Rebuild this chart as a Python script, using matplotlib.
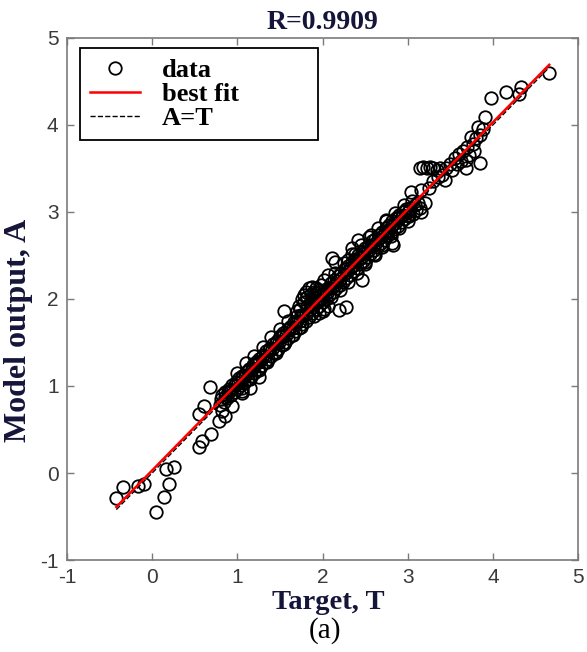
import matplotlib.pyplot as plt

plt.rcParams['axes.unicode_minus'] = False

# targets (T) and model outputs (A)
# dense band along the fit
band_t = [0.80, 0.82, 0.84, 0.86, 0.88, 0.90, 0.92, 0.94, 0.96, 0.98,
          1.00, 1.02, 1.04, 1.06, 1.08, 1.10, 1.12, 1.14, 1.16, 1.18,
          1.20, 1.22, 1.24, 1.26, 1.28, 1.30, 1.32, 1.34, 1.36, 1.38,
          1.40, 1.42, 1.44, 1.46, 1.48, 1.50, 1.52, 1.54, 1.56, 1.58,
          1.60, 1.62, 1.64, 1.66, 1.68, 1.70, 1.72, 1.74, 1.76, 1.78,
          1.80, 1.82, 1.84, 1.86, 1.88, 1.90, 1.92, 1.94, 1.96, 1.98,
          2.00, 2.02, 2.04, 2.06, 2.08, 2.10, 2.12, 2.14, 2.16, 2.18,
          2.20, 2.22, 2.24, 2.26, 2.28, 2.30, 2.32, 2.34, 2.36, 2.38,
          2.40, 2.42, 2.44, 2.46, 2.48, 2.50, 2.52, 2.54, 2.56, 2.58,
          2.60, 2.62, 2.64, 2.66, 2.68, 2.70, 2.72, 2.74, 2.76, 2.78,
          2.80, 2.82, 2.84, 2.86, 2.88, 2.90, 2.92, 2.94, 2.96, 2.98, 3.00]
band_a = [0.78, 0.90, 0.82, 0.93, 0.86, 0.97, 0.90, 1.01, 0.93, 1.05,
          0.97, 1.09, 1.01, 1.12, 1.04, 1.16, 1.08, 1.20, 1.12, 1.24,
          1.15, 1.28, 1.19, 1.31, 1.23, 1.36, 1.27, 1.40, 1.31, 1.44,
          1.35, 1.48, 1.39, 1.52, 1.43, 1.57, 1.47, 1.61, 1.51, 1.64,
          1.55, 1.68, 1.59, 1.74, 1.63, 1.80, 1.67, 1.88, 1.71, 1.96,
          1.75, 2.02, 1.79, 2.06, 1.84, 2.08, 1.88, 2.07, 1.92, 2.06,
          1.96, 2.10, 2.00, 2.13, 2.04, 2.18, 2.08, 2.22, 2.12, 2.26,
          2.16, 2.30, 2.20, 2.34, 2.24, 2.38, 2.28, 2.42, 2.32, 2.46,
          2.36, 2.50, 2.40, 2.54, 2.44, 2.58, 2.48, 2.62, 2.52, 2.66,
          2.56, 2.69, 2.60, 2.73, 2.64, 2.77, 2.68, 2.81, 2.72, 2.85,
          2.76, 2.89, 2.80, 2.93, 2.84, 2.97, 2.88, 3.00, 2.92, 3.03, 2.96]

core_t = [0.81, 0.85, 0.89, 0.93, 0.97, 1.01, 1.05, 1.09, 1.13, 1.17,
          1.21, 1.25, 1.29, 1.33, 1.37, 1.41, 1.45, 1.49, 1.53, 1.57,
          1.61, 1.65, 1.69, 1.73, 1.77, 1.81, 1.85, 1.89, 1.93, 1.97,
          2.01, 2.05, 2.09, 2.13, 2.17, 2.21, 2.25, 2.29, 2.33, 2.37,
          2.41, 2.45, 2.49, 2.53, 2.57, 2.61, 2.65, 2.69, 2.73, 2.77,
          2.81, 2.85, 2.89, 2.93, 2.97]
core_a = [0.85, 0.87, 0.93, 0.95, 1.01, 1.03, 1.09, 1.11, 1.17, 1.19,
          1.25, 1.27, 1.33, 1.35, 1.41, 1.43, 1.49, 1.51, 1.57, 1.59,
          1.65, 1.67, 1.73, 1.75, 1.81, 1.83, 1.89, 1.91, 1.97, 1.99,
          2.05, 2.07, 2.13, 2.15, 2.21, 2.23, 2.29, 2.31, 2.37, 2.39,
          2.45, 2.47, 2.53, 2.55, 2.61, 2.63, 2.69, 2.71, 2.77, 2.79,
          2.85, 2.87, 2.93, 2.95, 3.01]

# outer edge of the band
edge_t = [1.00, 1.05, 1.10, 1.15, 1.20, 1.25, 1.30, 1.35, 1.40, 1.45,
          1.50, 1.55, 1.60, 1.65, 1.70, 1.75, 2.10, 2.15, 2.20, 2.25,
          2.30, 2.35, 2.40, 2.45, 2.50, 2.55, 2.60, 2.65, 2.70, 2.75,
          2.80, 2.85, 2.90, 2.95, 3.00]
edge_a = [1.15, 0.98, 1.26, 1.08, 1.35, 1.18, 1.45, 1.28, 1.56, 1.38,
          1.66, 1.48, 1.75, 1.58, 1.86, 1.68, 2.02, 2.30, 2.10, 2.41,
          2.20, 2.52, 2.30, 2.62, 2.42, 2.71, 2.52, 2.81, 2.62, 2.90,
          2.72, 2.99, 2.82, 3.08, 2.90]

# bulge around T = 2
bulge_t = [1.72, 1.76, 1.80, 1.84, 1.88, 1.92, 1.96, 1.78, 1.86, 1.82,
           1.90, 1.94, 1.98, 2.02, 2.06, 1.75, 1.90, 1.96, 2.02, 2.06, 2.00]
bulge_a = [1.92, 2.00, 2.08, 2.12, 2.14, 2.13, 2.10, 2.04, 2.00, 1.92,
           2.02, 1.98, 2.16, 2.22, 2.28, 1.82, 1.80, 1.84, 1.88, 1.92, 1.86]

# scattered points
low_t = [-0.42, -0.34, -0.17, -0.09, 0.05, 0.14, 0.20, 0.16, 0.26,
         0.55, 0.59, 0.55, 0.61, 0.68, 0.79, 0.69, 0.82, 0.94, 1.06,
         0.85, 1.15, 1.25, 1.05]
low_a = [-0.29, -0.16, -0.15, -0.13, -0.45, -0.28, -0.13, 0.05, 0.07,
         0.30, 0.37, 0.68, 0.77, 0.99, 0.60, 0.45, 0.71, 0.77, 0.94,
         0.66, 0.98, 1.10, 0.92]

mid_t = [1.55, 2.11, 2.15, 2.34, 2.42, 2.46, 2.28, 2.19, 2.57, 2.74,
         2.81, 2.77, 2.83, 2.50, 2.62, 2.70, 2.30, 2.38]
mid_a = [1.86, 2.47, 2.42, 2.59, 2.68, 2.22, 1.91, 1.87, 2.74, 2.91,
         2.64, 2.77, 2.62, 2.40, 2.50, 2.60, 2.45, 2.52]

high_t = [3.00, 3.03, 3.06, 3.08, 3.10, 3.12, 3.14, 3.05, 3.02, 3.15,
          3.04, 3.16, 3.20, 3.14, 3.18, 3.22, 3.26, 3.30, 3.34, 3.38,
          3.25, 3.30, 3.35, 3.40, 3.44, 3.45, 3.50, 3.52, 3.55, 3.58,
          3.60, 3.62, 3.65, 3.68, 3.70, 3.68, 3.72, 3.74, 3.76, 3.78,
          3.80, 3.82, 3.85, 3.85, 3.88, 3.91, 3.98, 4.15, 4.33, 4.30, 4.66]
high_a = [3.00, 3.05, 2.98, 3.08, 3.02, 3.10, 3.04, 3.12, 2.95, 3.00,
          3.23, 3.25, 3.10, 3.50, 3.52, 3.50, 3.52, 3.50, 3.48, 3.50,
          3.28, 3.35, 3.40, 3.42, 3.37, 3.50, 3.55, 3.48, 3.62, 3.55,
          3.66, 3.58, 3.70, 3.60, 3.74, 3.51, 3.65, 3.86, 3.78, 3.70,
          3.85, 3.98, 3.56, 3.88, 3.95, 4.09, 4.31, 4.38, 4.44, 4.35, 4.60]

T = band_t + core_t + edge_t + bulge_t + low_t + mid_t + high_t
A = band_a + core_a + edge_a + bulge_a + low_a + mid_a + high_a

fit_slope = 1.00
fit_intercept = 0.03
r_value = 0.9909

serif = 'Liberation Serif'
sans = 'Liberation Sans'
label_col = '#15153a'
axis_col = '#7a7a7a'

fig = plt.figure(figsize=(5.87, 6.52), dpi=100)
ax = fig.add_axes([0.114, 0.141, 0.871, 0.801])

t_lo, t_hi = min(T), max(T)
ax.plot([t_lo, t_hi], [t_lo, t_hi], 'k--', lw=1.0, label='A=T', zorder=1)
ax.plot(T, A, 'o', ms=9, mfc='none', mec='black', mew=1.3, label='data', zorder=2)
ax.plot([t_lo, t_hi], [fit_slope * t_lo + fit_intercept, fit_slope * t_hi + fit_intercept],
        color='red', lw=1.8, label='best fit', zorder=3)

ax.set_xlim(-1, 5)
ax.set_ylim(-1, 5)
ax.set_xticks(range(-1, 6))
ax.set_yticks(range(-1, 6))
ax.tick_params(direction='in', length=5, width=1, color=axis_col, top=True, right=True,
               labelsize=15, labelcolor='#3a3a3a', pad=6)
for lab in ax.get_xticklabels() + ax.get_yticklabels():
    lab.set_family(sans)
for sp in ax.spines.values():
    sp.set_color(axis_col)
    sp.set_linewidth(1.2)

ax.set_title('R=%.4f' % r_value, fontsize=20, fontweight='bold', family=serif,
             color=label_col, pad=6)
ax.set_xlabel('Target, T', fontsize=20.5, fontweight='bold', family=serif,
              color=label_col)
ax.xaxis.set_label_coords(0.511, -0.058)
ax.set_ylabel('Model output, A', fontsize=23, fontweight='bold', family=serif,
              color=label_col)
ax.yaxis.set_label_coords(-0.066, 0.439)

h, l = ax.get_legend_handles_labels()
order = [1, 2, 0]
leg = ax.legend([h[i] for i in order], [l[i] for i in order], loc='upper left',
                bbox_to_anchor=(0.025, 0.805, 0.466, 0.176), mode='expand',
                borderaxespad=0, numpoints=1, handlelength=1.9, handletextpad=0.8,
                labelspacing=0.02, borderpad=0.4, fancybox=False, framealpha=1,
                prop={'family': serif, 'weight': 'bold', 'size': 19})
leg.get_frame().set_edgecolor('black')
leg.get_frame().set_linewidth(1.3)

fig.text(0.553, 0.033, '(a)', fontsize=21, family=serif, ha='center', va='center')

fig.savefig('out.png', dpi=100)
